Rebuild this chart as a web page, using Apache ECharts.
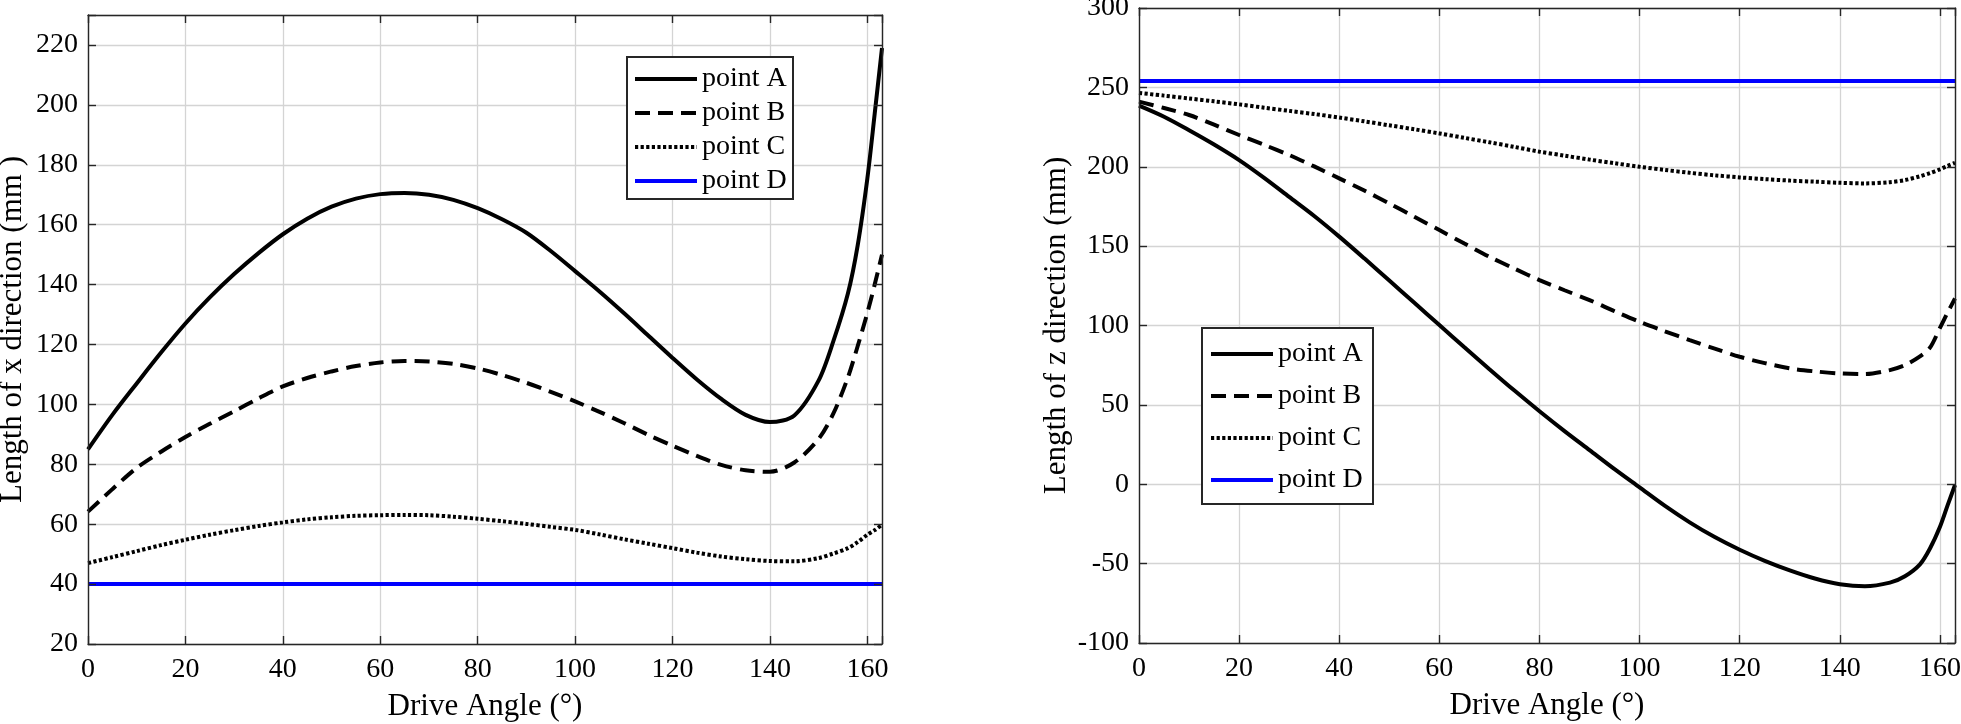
<!DOCTYPE html>
<html>
<head>
<meta charset="utf-8">
<script src="https://cdn.jsdelivr.net/npm/echarts@6/dist/echarts.min.js"></script>
<style>
html,body{margin:0;padding:0;background:#fff;}
#chart{width:1961px;height:724px;}
</style>
</head>
<body>
<div id="chart"></div>
<script>
// ---- data ----
var angles = [0,5,10,15,20,25,30,35,40,45,50,55,60,65,70,75,80,85,90,95,100,105,110,115,120,125,130,135,140,145,150,153,156,158,160,161.5,163];
var seriesNames = ['point A','point B','point C','point D'];

// Length of x direction (mm)
var xA = [85,96.5,107,117.3,127,135.7,143.5,150.5,156.8,162,166,168.7,170.2,170.6,170,168.3,165.5,161.8,157.3,151.2,144.5,137.7,130.5,123,115.5,108.3,101.8,96.5,94.1,96.3,108,121,137,153,175.5,197,219];
var xB = [64.2,71.7,78.8,84.2,89.1,93.5,97.7,102,106,108.8,111,112.8,114,114.5,114.3,113.5,112,109.8,107.2,104.2,101,97.5,93.8,89.8,86.2,82.8,79.8,78,77.5,80.6,88.5,96.9,109,119.4,130.6,140,150];
var xC = [47,49,51,53,54.8,56.5,58,59.4,60.6,61.6,62.3,62.8,63,63.1,63,62.5,61.8,61,60.1,59.1,58.1,56.6,55,53.5,52,50.5,49.2,48.3,47.7,47.6,48.7,50.2,52,54,56.5,58,59.8];
var xD = angles.map(function(){ return 40; });

// Length of z direction (mm)
var zA = [238.5,231.5,223,214,204.2,193,181,169,156,142.3,128.3,114.3,100.3,86.3,72.5,59,46,33.5,21.5,9.5,-2,-13.5,-24,-33.3,-41.3,-48.3,-54.3,-59.4,-63,-64.3,-62,-58,-50.5,-40.5,-26.8,-13.5,-0.5];
var zB = [241,237,232.6,226.5,220,213.8,207.4,200.2,192.7,185,176.9,168.5,160.1,151.6,143.3,135.8,128.6,122.2,116,109,102.3,96.4,90.8,85.4,80.3,76.3,73,71.1,69.8,69.4,71.9,75,80.5,86,98.5,108,117];
var zC = [246.5,244.8,243,241.2,239.3,237.2,235.2,233.2,231,228.6,226.1,223.6,221,218.2,215.4,212.5,209.5,207,204.5,202.2,200,198,196.2,194.6,193.3,192.2,191.3,190.6,189.9,189.5,190.3,191.6,194,196,198.4,200.5,202.5];
var zD = angles.map(function(){ return 254; });

var xTitle = 'Drive Angle (°)';
var yTitleLeft = 'Length of x direction (mm )';
var yTitleRight = 'Length of z direction (mm)';

// ---- styling ----
var FONT = "'Liberation Serif', 'Times New Roman', serif";
var FS = 28;      // tick labels / legend
var FST = 31;     // axis titles
var AXC = '#262626';
var GRIDC = '#d4d4d4';

function pairs(xs, ys){ return xs.map(function(x,i){ return [x, ys[i]]; }); }
function fmtEvery(step){ return function(v){ return (Math.abs(v % step) < 1e-9) ? String(v) : ''; }; }

var styles = [
  {color:'#000', type:'solid'},
  {color:'#000', type:[15,8]},
  {color:'#000', type:[3.2,2.4]},
  {color:'#0000ff', type:'solid'}
];

function mkSeries(name, xi, yi, data, st){
  return {
    type:'line', name:name, xAxisIndex:xi, yAxisIndex:yi,
    data:data, showSymbol:false, symbol:'none', symbolSize:0, smooth:0.3,
    lineStyle:{color:st.color, width:4, type:st.type, cap:'butt'},
    itemStyle:{color:st.color},
    z:3
  };
}

var leftGrid = {left:88, top:15, width:794, height:629, containLabel:false, outerBoundsMode:'none'};
var rightGrid = {left:1139, top:8, width:816, height:635, containLabel:false, outerBoundsMode:'none'};

function mainX(gi, max, nameGap){
  return {type:'value', gridIndex:gi, position:'bottom', min:0, max:max, interval:20,
    name:xTitle, nameLocation:'middle', nameGap:nameGap,
    nameTextStyle:{fontFamily:FONT, fontSize:FST, color:'#000'},
    axisLine:{show:false}, axisTick:{show:false},
    axisLabel:{fontFamily:FONT, fontSize:FS, color:'#000', margin:12, formatter:fmtEvery(20)},
    splitLine:{show:true, lineStyle:{color:GRIDC, width:1.3}}, z:0};
}
function mainY(gi, min, max, interval, name, nameGap){
  return {type:'value', gridIndex:gi, position:'left', min:min, max:max, interval:interval,
    name:name, nameLocation:'middle', nameGap:nameGap,
    nameTextStyle:{fontFamily:FONT, fontSize:FST, color:'#000'},
    axisLine:{show:false}, axisTick:{show:false},
    axisLabel:{fontFamily:FONT, fontSize:FS, color:'#000', margin:10, formatter:fmtEvery(interval)},
    splitLine:{show:true, lineStyle:{color:GRIDC, width:1.3}}, z:0};
}
function frameAxis(gi, pos, min, max, interval){
  return {type:'value', gridIndex:gi, position:pos, min:min, max:max, interval:interval,
    axisLine:{show:true, onZero:false, lineStyle:{color:AXC, width:1.4}},
    axisTick:{show:true, inside:true, length:8, lineStyle:{color:AXC, width:1.4}},
    axisLabel:{show:false}, splitLine:{show:false}, z:6};
}

var legendCommon = {
  orient:'vertical', itemWidth:62, itemHeight:14,
  backgroundColor:'transparent', borderWidth:0,
  textStyle:{fontFamily:FONT, fontSize:FS, color:'#000', lineHeight:30},
  itemStyle:{opacity:0, borderWidth:0},
  lineStyle:{width:4},
  data:seriesNames, selectedMode:false, z:9
};

// legend frames (white boxes with dark border)
var legendBoxes = [
  {x:627, y:57, w:166, h:142},
  {x:1202, y:328, w:171, h:176}
];

var option = {
  animation:false,
  backgroundColor:'#fff',
  grid:[
    Object.assign({}, leftGrid), Object.assign({}, leftGrid),
    Object.assign({}, rightGrid), Object.assign({}, rightGrid)
  ],
  xAxis:[
    mainX(0, 163, 47),
    frameAxis(1,'bottom',0,163,20),
    frameAxis(1,'top',0,163,20),
    mainX(2, 163, 47),
    frameAxis(3,'bottom',0,163,20),
    frameAxis(3,'top',0,163,20)
  ],
  yAxis:[
    mainY(0, 20, 230, 20, yTitleLeft, 60),
    frameAxis(1,'left',20,230,20),
    frameAxis(1,'right',20,230,20),
    mainY(2, -100, 300, 50, yTitleRight, 67),
    frameAxis(3,'left',-100,300,50),
    frameAxis(3,'right',-100,300,50)
  ],
  graphic: legendBoxes.map(function(b){
    return {type:'rect', z:8, silent:true,
      shape:{x:b.x, y:b.y, width:b.w, height:b.h},
      style:{fill:'#fff', stroke:AXC, lineWidth:2}};
  }),
  legend:[
    Object.assign({}, legendCommon, {left:627, top:57, itemGap:4, padding:[7,8,5,6]}),
    Object.assign({}, legendCommon, {left:1202, top:328, itemGap:12, padding:[11,10,9,7]})
  ],
  series:[
    mkSeries(seriesNames[0],0,0,pairs(angles,xA),styles[0]),
    mkSeries(seriesNames[1],0,0,pairs(angles,xB),styles[1]),
    mkSeries(seriesNames[2],0,0,pairs(angles,xC),styles[2]),
    mkSeries(seriesNames[3],0,0,pairs(angles,xD),styles[3]),
    mkSeries(seriesNames[0],3,3,pairs(angles,zA),styles[0]),
    mkSeries(seriesNames[1],3,3,pairs(angles,zB),styles[1]),
    mkSeries(seriesNames[2],3,3,pairs(angles,zC),styles[2]),
    mkSeries(seriesNames[3],3,3,pairs(angles,zD),styles[3])
  ]
};

var chart = echarts.init(document.getElementById('chart'), null, {renderer:'canvas'});
chart.setOption(option);
</script>
</body>
</html>
